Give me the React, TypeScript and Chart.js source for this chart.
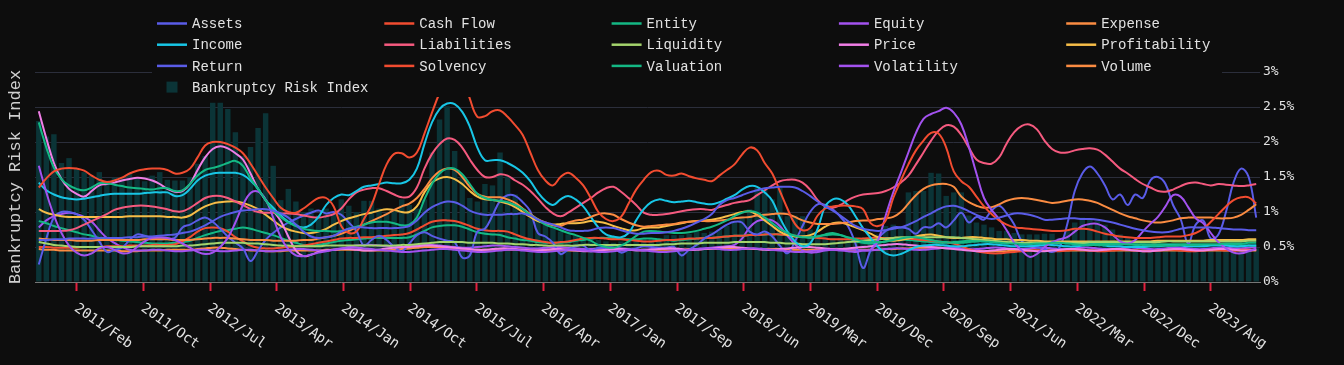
import { useEffect, useRef } from 'react';
import { Chart, registerables } from 'chart.js';

Chart.register(...registerables);

// ---------- data (monthly, Sep 2010 .. Feb 2024) ----------
const START_YEAR = 2010;
const START_MONTH = 8; // September (0-based)
const MONTH_NAMES = ['Jan', 'Feb', 'Mar', 'Apr', 'May', 'Jun', 'Jul', 'Aug', 'Sep', 'Oct', 'Nov', 'Dec'];

const TICK_LABELS = [
  '2011/Feb', '2011/Oct', '2012/Jul', '2013/Apr', '2014/Jan', '2014/Oct', '2015/Jul', '2016/Apr', '2017/Jan',
  '2017/Sep', '2018/Jun', '2019/Mar', '2019/Dec', '2020/Sep', '2021/Jun', '2022/Mar', '2022/Dec', '2023/Aug',
];

const Y_TICKS = [0, 0.5, 1, 1.5, 2, 2.5, 3];

const BANKRUPTCY_RISK = [
  2.30, 2.08, 2.11, 1.70, 1.77, 1.62, 1.57, 1.52, 1.57, 1.45,
  1.49, 1.50, 1.55, 1.50, 1.44, 1.52, 1.57, 1.46, 1.45, 1.45,
  1.50, 1.69, 1.80, 2.56, 2.56, 2.47, 2.14, 1.80, 1.93, 2.20,
  2.41, 1.66, 1.17, 1.33, 1.15, 1.00, 1.05, 0.95, 1.05, 1.00,
  1.18, 1.09, 1.00, 1.16, 1.16, 1.05, 0.98, 1.02, 1.18, 1.10,
  1.05, 1.18, 1.85, 2.32, 2.51, 1.87, 1.50, 1.20, 1.15, 1.40,
  1.38, 1.85, 1.51, 1.25, 1.05, 0.92, 0.88, 0.85, 0.78, 0.72,
  0.68, 0.66, 0.64, 0.63, 0.60, 0.58, 0.56, 0.58, 0.60, 0.61,
  0.63, 0.62, 0.61, 0.67, 0.67, 0.67, 0.69, 0.72, 0.70, 0.72,
  0.75, 0.80, 0.85, 0.94, 1.04, 1.35, 1.32, 1.18, 1.35, 0.94,
  0.95, 0.94, 0.75, 0.68, 0.68, 0.63, 0.63, 0.62, 0.63, 0.64,
  0.63, 0.68, 0.80, 0.82, 0.80, 1.28, 1.30, 1.30, 1.56, 1.55,
  1.23, 1.28, 1.28, 0.95, 0.85, 0.82, 0.78, 0.73, 0.73, 0.70,
  0.68, 0.68, 0.68, 0.69, 0.69, 0.63, 0.75, 0.85, 0.92, 0.90,
  0.87, 0.82, 0.75, 0.68, 0.63, 0.58, 0.56, 0.54, 0.52, 0.52,
  0.51, 0.50, 0.50, 0.50, 0.49, 0.49, 0.49, 0.49, 0.48, 0.48,
  0.48, 0.48,
];

const ASSETS = [
  0.60, 0.60, 0.61, 0.61, 0.62, 0.62, 0.62, 0.62, 0.63, 0.63,
  0.63, 0.63, 0.64, 0.64, 0.65, 0.65, 0.66, 0.67, 0.68, 0.70,
  0.72, 0.76, 0.81, 0.87, 0.93, 0.97, 1.00, 1.02, 1.03, 1.04,
  1.04, 1.02, 0.98, 0.92, 0.82, 0.72, 0.65, 0.63, 0.64, 0.66,
  0.72, 0.76, 0.78, 0.78, 0.77, 0.77, 0.77, 0.77, 0.78, 0.80,
  0.88, 0.99, 1.07, 1.12, 1.15, 1.14, 1.09, 1.02, 0.98, 0.96,
  0.96, 0.96, 0.97, 0.97, 0.98, 0.95, 0.89, 0.85, 0.82, 0.78,
  0.74, 0.73, 0.73, 0.74, 0.77, 0.78, 0.77, 0.74, 0.71, 0.69,
  0.69, 0.70, 0.70, 0.71, 0.73, 0.76, 0.80, 0.85, 0.90, 0.97,
  1.10, 1.17, 1.20, 1.24, 1.28, 1.31, 1.34, 1.35, 1.36, 1.36,
  1.35, 1.30, 1.23, 1.15, 1.08, 1.02, 0.95, 0.87, 0.80, 0.76,
  0.74, 0.73, 0.74, 0.76, 0.78, 0.82, 0.87, 0.93, 0.98, 1.04,
  1.08, 1.09, 1.06, 1.01, 0.96, 0.92, 0.90, 0.92, 0.95, 0.98,
  0.98, 0.96, 0.93, 0.89, 0.89, 0.90, 0.91, 0.91, 0.90, 0.90,
  0.89, 0.87, 0.85, 0.82, 0.79, 0.76, 0.74, 0.72, 0.71, 0.71,
  0.73, 0.76, 0.78, 0.78, 0.78, 0.78, 0.77, 0.76, 0.75, 0.75,
  0.74, 0.74,
];

const CASH_FLOW = [
  1.35, 1.48, 1.58, 1.62, 1.63, 1.62, 1.59, 1.52, 1.46, 1.43,
  1.45, 1.49, 1.55, 1.59, 1.61, 1.62, 1.62, 1.60, 1.55, 1.56,
  1.62, 1.78, 1.95, 2.00, 2.00, 1.97, 1.92, 1.84, 1.69, 1.52,
  1.35, 1.20, 1.06, 1.00, 0.99, 1.05, 1.13, 1.20, 1.20, 1.08,
  0.80, 0.70, 0.72, 0.90, 1.10, 1.40, 1.68, 1.83, 1.84, 1.78,
  1.85, 2.12, 2.42, 2.70, 2.92, 3.02, 2.95, 2.62, 2.36, 2.37,
  2.44, 2.45, 2.36, 2.24, 2.10, 1.85, 1.60, 1.45, 1.38, 1.50,
  1.56, 1.49, 1.38, 1.20, 1.00, 0.90, 0.87, 0.93, 1.12, 1.32,
  1.46, 1.57, 1.59, 1.53, 1.52, 1.55, 1.51, 1.48, 1.46, 1.44,
  1.52, 1.60, 1.68, 1.82, 1.92, 1.88, 1.70, 1.55, 1.30, 1.05,
  0.83, 0.74, 0.77, 0.95, 1.05, 1.08, 1.09, 1.09, 1.08, 1.04,
  0.84, 0.80, 0.88, 1.20, 1.45, 1.68, 1.88, 2.02, 2.13, 2.12,
  1.92, 1.58, 1.44, 1.36, 1.22, 1.08, 0.97, 0.88, 0.82, 0.78,
  0.77, 0.76, 0.75, 0.74, 0.73, 0.73, 0.74, 0.76, 0.76, 0.75,
  0.72, 0.69, 0.67, 0.65, 0.64, 0.63, 0.63, 0.63, 0.64, 0.65,
  0.65, 0.65, 0.67, 0.70, 0.76, 0.86, 0.97, 1.08, 1.17, 1.21,
  1.21, 1.12,
];

const ENTITY = [
  2.28, 1.92, 1.63, 1.47, 1.38, 1.33, 1.31, 1.35, 1.41, 1.41,
  1.39, 1.37, 1.35, 1.34, 1.33, 1.32, 1.34, 1.34, 1.30, 1.31,
  1.40, 1.52, 1.60, 1.63, 1.66, 1.70, 1.73, 1.66, 1.48, 1.33,
  1.17, 1.02, 0.93, 0.85, 0.80, 0.76, 0.74, 0.73, 0.73, 0.72,
  0.73, 0.76, 0.79, 0.82, 0.85, 0.86, 0.86, 0.84, 0.81, 0.82,
  0.92, 1.18, 1.40, 1.55, 1.62, 1.62, 1.54, 1.40, 1.26, 1.20,
  1.17, 1.16, 1.14, 1.10, 1.04, 0.96, 0.89, 0.82, 0.78, 0.74,
  0.70, 0.67, 0.63, 0.59, 0.53, 0.50, 0.49, 0.52, 0.58, 0.66,
  0.72, 0.73, 0.72, 0.71, 0.70, 0.70, 0.71, 0.73, 0.76, 0.79,
  0.83, 0.88, 0.94, 0.99, 1.01, 0.99, 0.92, 0.84, 0.76, 0.70,
  0.66, 0.64, 0.64, 0.65, 0.67, 0.68, 0.67, 0.64, 0.61, 0.58,
  0.57, 0.57, 0.58, 0.60, 0.62, 0.64, 0.64, 0.62, 0.60, 0.58,
  0.57, 0.56, 0.56, 0.57, 0.58, 0.58, 0.57, 0.56, 0.55, 0.55,
  0.54, 0.54, 0.55, 0.55, 0.56, 0.56, 0.55, 0.54, 0.53, 0.53,
  0.53, 0.53, 0.54, 0.54, 0.54, 0.53, 0.53, 0.52, 0.52, 0.52,
  0.52, 0.53, 0.53, 0.53, 0.54, 0.54, 0.54, 0.55, 0.55, 0.55,
  0.56, 0.56,
];

const EQUITY = [
  1.66, 1.28, 0.95, 0.70, 0.52, 0.42, 0.38, 0.41, 0.48, 0.50,
  0.46, 0.41, 0.42, 0.50, 0.58, 0.63, 0.64, 0.63, 0.60, 0.55,
  0.49, 0.43, 0.40, 0.42, 0.50, 0.63, 0.85, 1.10, 1.27, 1.29,
  1.18, 0.92, 0.64, 0.47, 0.38, 0.37, 0.39, 0.42, 0.44, 0.46,
  0.48, 0.49, 0.49, 0.48, 0.47, 0.46, 0.45, 0.44, 0.43, 0.43,
  0.44, 0.45, 0.46, 0.47, 0.47, 0.46, 0.45, 0.44, 0.43, 0.43,
  0.44, 0.45, 0.46, 0.46, 0.45, 0.44, 0.43, 0.43, 0.44, 0.45,
  0.46, 0.46, 0.45, 0.44, 0.43, 0.43, 0.44, 0.45, 0.46, 0.46,
  0.45, 0.44, 0.43, 0.43, 0.44, 0.45, 0.46, 0.47, 0.48, 0.48,
  0.47, 0.46, 0.46, 0.47, 0.48, 0.48, 0.47, 0.46, 0.45, 0.44,
  0.43, 0.43, 0.44, 0.45, 0.46, 0.46, 0.45, 0.44, 0.43, 0.45,
  0.46, 0.60, 0.95, 1.28, 1.56, 1.85, 2.13, 2.33, 2.40, 2.44,
  2.49, 2.42, 2.25, 1.93, 1.55, 1.20, 1.03, 0.90, 0.74, 0.56,
  0.45, 0.36, 0.40, 0.50, 0.57, 0.61, 0.64, 0.72, 0.80, 0.83,
  0.83, 0.78, 0.68, 0.58, 0.55, 0.60, 0.72, 0.83, 0.93, 1.08,
  1.24, 1.22, 1.07, 0.91, 0.84, 0.70, 0.57, 0.48, 0.42, 0.41,
  0.44, 0.48,
];

const EXPENSE = [
  0.62, 0.61, 0.60, 0.60, 0.60, 0.59, 0.59, 0.59, 0.60, 0.60,
  0.60, 0.60, 0.60, 0.60, 0.61, 0.61, 0.61, 0.61, 0.60, 0.60,
  0.60, 0.61, 0.62, 0.63, 0.63, 0.63, 0.62, 0.61, 0.60, 0.60,
  0.60, 0.59, 0.59, 0.59, 0.59, 0.60, 0.60, 0.62, 0.64, 0.66,
  0.69, 0.73, 0.78, 0.82, 0.87, 0.92, 0.97, 1.03, 1.08, 1.12,
  1.20, 1.33, 1.48, 1.58, 1.62, 1.60, 1.50, 1.36, 1.26, 1.22,
  1.21, 1.21, 1.18, 1.13, 1.05, 0.97, 0.90, 0.85, 0.81, 0.80,
  0.85, 0.88, 0.89, 0.93, 0.97, 0.98, 0.96, 0.90, 0.85, 0.81,
  0.79, 0.80, 0.81, 0.82, 0.83, 0.85, 0.86, 0.87, 0.87, 0.87,
  0.88, 0.89, 0.91, 0.92, 0.93, 0.95, 0.96, 0.97, 0.98, 0.97,
  0.93, 0.88, 0.85, 0.83, 0.83, 0.83, 0.84, 0.85, 0.87, 0.88,
  0.88, 0.90, 0.91, 0.93, 1.00, 1.12, 1.24, 1.33, 1.38, 1.40,
  1.40, 1.36, 1.22, 1.14, 1.09, 1.06, 1.07, 1.11, 1.16, 1.19,
  1.20, 1.19, 1.17, 1.15, 1.13, 1.14, 1.16, 1.18, 1.18, 1.16,
  1.13, 1.08, 1.03, 0.98, 0.94, 0.91, 0.88, 0.86, 0.85, 0.86,
  0.88, 0.91, 0.92, 0.92, 0.92, 0.92, 0.91, 0.91, 0.92, 0.96,
  1.03, 1.11,
];

const INCOME = [
  1.42, 1.31, 1.25, 1.21, 1.19, 1.18, 1.19, 1.21, 1.23, 1.25,
  1.26, 1.26, 1.26, 1.26, 1.27, 1.28, 1.28, 1.28, 1.23, 1.24,
  1.33, 1.45, 1.52, 1.55, 1.56, 1.56, 1.56, 1.53, 1.45, 1.33,
  1.17, 1.06, 0.95, 0.86, 0.81, 0.78, 0.82, 0.93, 1.10, 1.20,
  1.25, 1.24, 1.30, 1.36, 1.38, 1.40, 1.42, 1.41, 1.41, 1.46,
  1.62, 1.97, 2.28, 2.47, 2.55, 2.54, 2.43, 2.22, 1.92, 1.74,
  1.74, 1.74, 1.70, 1.64, 1.56, 1.44, 1.28, 1.16, 1.10, 1.18,
  1.23, 1.18, 1.08, 0.93, 0.78, 0.68, 0.65, 0.64, 0.70, 0.88,
  1.04, 1.14, 1.18, 1.16, 1.14, 1.15, 1.16, 1.14, 1.12, 1.11,
  1.14, 1.19, 1.24, 1.32, 1.37, 1.36, 1.28, 1.16, 0.92, 0.72,
  0.58, 0.51, 0.55, 0.76, 1.08, 1.18, 1.18, 1.10, 0.94, 0.77,
  0.63, 0.50, 0.41, 0.38, 0.40, 0.45, 0.50, 0.52, 0.53, 0.53,
  0.52, 0.51, 0.51, 0.52, 0.53, 0.54, 0.54, 0.53, 0.52, 0.51,
  0.51, 0.51, 0.52, 0.53, 0.53, 0.52, 0.51, 0.51, 0.52, 0.53,
  0.53, 0.52, 0.51, 0.51, 0.50, 0.50, 0.50, 0.51, 0.51, 0.52,
  0.52, 0.52, 0.51, 0.51, 0.51, 0.52, 0.52, 0.52, 0.51, 0.51,
  0.52, 0.52,
];

const LIABILITIES = [
  0.73, 0.73, 0.73, 0.73, 0.74, 0.77, 0.82, 0.87, 0.92, 0.97,
  1.03, 1.06, 1.08, 1.09, 1.09, 1.08, 1.06, 1.04, 1.01, 1.01,
  1.06, 1.13, 1.20, 1.23, 1.23, 1.20, 1.15, 1.10, 1.04, 1.00,
  0.99, 0.99, 0.98, 0.98, 0.97, 0.95, 0.93, 0.92, 0.94, 0.97,
  1.05, 1.18, 1.28, 1.32, 1.34, 1.34, 1.30, 1.25, 1.21, 1.22,
  1.35, 1.62, 1.83, 1.97, 2.05, 2.03, 1.92, 1.75, 1.60, 1.50,
  1.50, 1.54, 1.52, 1.45, 1.39, 1.30, 1.19, 1.07, 0.98, 0.94,
  0.99, 1.06, 1.13, 1.20, 1.28, 1.34, 1.36, 1.29, 1.20, 1.10,
  0.99, 0.96, 0.96, 0.97, 0.99, 1.01, 1.03, 1.04, 1.04, 1.03,
  1.07, 1.10, 1.13, 1.15, 1.17, 1.24, 1.31, 1.38, 1.44, 1.46,
  1.46, 1.42, 1.32, 1.17, 1.08, 1.06, 1.10, 1.17, 1.22, 1.25,
  1.26, 1.27, 1.30, 1.35, 1.42, 1.52, 1.68, 1.85, 2.02, 2.16,
  2.24, 2.22, 2.10, 1.92, 1.75, 1.70, 1.69, 1.78, 1.98, 2.14,
  2.23, 2.25, 2.18, 2.02, 1.90, 1.85, 1.85, 1.88, 1.90, 1.91,
  1.89, 1.82, 1.72, 1.62, 1.55, 1.47, 1.40, 1.35, 1.30, 1.29,
  1.32, 1.37, 1.41, 1.42, 1.40, 1.38, 1.40, 1.39, 1.38, 1.37,
  1.38, 1.40,
];

const LIQUIDITY = [
  0.57, 0.55, 0.53, 0.52, 0.51, 0.50, 0.50, 0.50, 0.50, 0.50,
  0.50, 0.50, 0.50, 0.51, 0.51, 0.51, 0.51, 0.51, 0.51, 0.52,
  0.52, 0.53, 0.54, 0.55, 0.56, 0.56, 0.56, 0.56, 0.55, 0.55,
  0.54, 0.53, 0.52, 0.52, 0.51, 0.51, 0.51, 0.51, 0.52, 0.52,
  0.52, 0.52, 0.52, 0.52, 0.52, 0.52, 0.52, 0.52, 0.53, 0.53,
  0.54, 0.55, 0.56, 0.57, 0.57, 0.57, 0.57, 0.56, 0.56, 0.56,
  0.56, 0.55, 0.55, 0.54, 0.54, 0.53, 0.53, 0.52, 0.52, 0.52,
  0.52, 0.52, 0.53, 0.53, 0.53, 0.53, 0.53, 0.53, 0.53, 0.53,
  0.53, 0.53, 0.53, 0.54, 0.54, 0.55, 0.55, 0.55, 0.56, 0.56,
  0.56, 0.56, 0.57, 0.57, 0.57, 0.57, 0.57, 0.56, 0.56, 0.55,
  0.55, 0.54, 0.54, 0.54, 0.54, 0.55, 0.56, 0.57, 0.58, 0.59,
  0.60, 0.61, 0.62, 0.63, 0.64, 0.64, 0.64, 0.64, 0.64, 0.64,
  0.64, 0.64, 0.63, 0.62, 0.61, 0.60, 0.59, 0.58, 0.57, 0.57,
  0.56, 0.56, 0.56, 0.56, 0.56, 0.56, 0.56, 0.56, 0.56, 0.57,
  0.57, 0.57, 0.57, 0.57, 0.57, 0.57, 0.57, 0.57, 0.57, 0.58,
  0.58, 0.58, 0.58, 0.58, 0.58, 0.58, 0.58, 0.58, 0.58, 0.58,
  0.59, 0.59,
];

const PRICE = [
  2.44, 2.05, 1.70, 1.47, 1.33, 1.26, 1.22, 1.30, 1.38, 1.40,
  1.42, 1.45, 1.47, 1.49, 1.48, 1.45, 1.40, 1.33, 1.29, 1.30,
  1.40, 1.60, 1.78, 1.90, 1.94, 1.91, 1.84, 1.75, 1.55, 1.33,
  1.17, 1.02, 0.87, 0.65, 0.45, 0.37, 0.39, 0.43, 0.45, 0.46,
  0.47, 0.47, 0.46, 0.45, 0.45, 0.46, 0.48, 0.49, 0.50, 0.50,
  0.51, 0.52, 0.52, 0.51, 0.50, 0.49, 0.48, 0.47, 0.46, 0.46,
  0.47, 0.48, 0.48, 0.47, 0.46, 0.45, 0.45, 0.46, 0.47, 0.47,
  0.46, 0.45, 0.44, 0.44, 0.45, 0.46, 0.47, 0.47, 0.46, 0.45,
  0.45, 0.46, 0.47, 0.48, 0.48, 0.47, 0.46, 0.46, 0.47, 0.48,
  0.49, 0.50, 0.50, 0.49, 0.48, 0.47, 0.46, 0.46, 0.47, 0.48,
  0.49, 0.50, 0.50, 0.49, 0.48, 0.47, 0.47, 0.48, 0.49, 0.50,
  0.51, 0.52, 0.53, 0.54, 0.54, 0.53, 0.52, 0.51, 0.50, 0.49,
  0.48, 0.47, 0.46, 0.45, 0.44, 0.44, 0.45, 0.46, 0.47, 0.47,
  0.46, 0.45, 0.44, 0.44, 0.45, 0.46, 0.47, 0.47, 0.46, 0.45,
  0.45, 0.46, 0.47, 0.47, 0.46, 0.45, 0.44, 0.44, 0.45, 0.46,
  0.47, 0.47, 0.46, 0.45, 0.45, 0.46, 0.47, 0.47, 0.46, 0.45,
  0.45, 0.46,
];

const PROFITABILITY = [
  1.04, 0.99, 0.96, 0.94, 0.93, 0.93, 0.93, 0.93, 0.93, 0.93,
  0.93, 0.93, 0.94, 0.94, 0.94, 0.94, 0.94, 0.93, 0.93, 0.92,
  0.95, 1.02, 1.08, 1.12, 1.14, 1.15, 1.15, 1.13, 1.09, 1.04,
  0.96, 0.88, 0.80, 0.75, 0.72, 0.70, 0.70, 0.72, 0.76, 0.82,
  0.87, 0.91, 0.94, 0.97, 0.99, 1.02, 1.04, 1.03, 1.00, 1.00,
  1.08, 1.28, 1.42, 1.48, 1.50, 1.47, 1.40, 1.30, 1.22, 1.18,
  1.17, 1.15, 1.12, 1.07, 1.00, 0.93, 0.87, 0.84, 0.82, 0.83,
  0.84, 0.84, 0.85, 0.87, 0.86, 0.84, 0.80, 0.77, 0.74, 0.74,
  0.77, 0.78, 0.78, 0.80, 0.82, 0.84, 0.86, 0.87, 0.88, 0.89,
  0.91, 0.94, 0.97, 1.00, 1.01, 0.96, 0.88, 0.80, 0.72, 0.67,
  0.65, 0.65, 0.67, 0.72, 0.79, 0.84, 0.85, 0.82, 0.78, 0.74,
  0.69, 0.64, 0.61, 0.59, 0.60, 0.62, 0.65, 0.67, 0.68, 0.66,
  0.64, 0.63, 0.63, 0.64, 0.64, 0.63, 0.62, 0.61, 0.61, 0.60,
  0.60, 0.59, 0.59, 0.58, 0.58, 0.58, 0.58, 0.58, 0.58, 0.58,
  0.58, 0.58, 0.58, 0.58, 0.58, 0.58, 0.58, 0.58, 0.59, 0.59,
  0.59, 0.59, 0.59, 0.59, 0.59, 0.60, 0.60, 0.60, 0.60, 0.60,
  0.61, 0.61,
];

const RETURN = [
  0.25, 0.62, 0.92, 1.00, 1.00, 0.97, 0.89, 0.74, 0.58, 0.43,
  0.46, 0.49, 0.60, 0.68, 0.66, 0.63, 0.61, 0.62, 0.63, 0.78,
  0.82, 0.88, 0.92, 0.86, 0.76, 0.65, 0.56, 0.48, 0.30, 0.45,
  0.60, 0.70, 0.78, 0.85, 0.90, 0.95, 0.99, 1.02, 0.98, 1.00,
  0.96, 0.85, 0.73, 0.52, 0.60, 0.66, 0.60, 0.50, 0.44, 0.55,
  0.67, 0.71, 0.66, 0.62, 0.59, 0.57, 0.35, 0.38, 0.72, 0.76,
  0.95, 1.16, 1.24, 1.23, 1.14, 1.01, 0.70, 0.65, 0.56, 0.40,
  0.46, 0.51, 0.52, 0.44, 0.49, 0.49, 0.49, 0.42, 0.46, 0.48,
  0.51, 0.50, 0.49, 0.49, 0.50, 0.38, 0.46, 0.53, 0.62, 0.68,
  0.75, 0.82, 0.86, 0.85, 0.72, 0.68, 0.72, 0.65, 0.52, 0.41,
  0.58, 0.80, 1.00, 1.11, 1.10, 1.04, 0.93, 0.80, 0.55, 0.20,
  0.45, 0.62, 0.73, 0.78, 0.78, 0.76, 0.69, 0.78, 0.78, 0.84,
  0.78, 0.88, 0.99, 0.85, 0.93, 0.89, 1.02, 1.09, 0.98, 0.82,
  0.58, 0.53, 0.50, 0.47, 0.43, 0.50, 0.82, 1.30, 1.55, 1.65,
  1.55, 1.38, 1.18, 1.25, 1.10, 1.25, 1.20, 1.45, 1.50, 1.40,
  1.10, 0.90, 0.55, 0.82, 0.88, 0.62, 0.68, 1.00, 1.42, 1.62,
  1.50, 0.92,
];

const SOLVENCY = [
  0.50, 0.50, 0.49, 0.49, 0.49, 0.49, 0.50, 0.50, 0.50, 0.51,
  0.51, 0.51, 0.52, 0.52, 0.52, 0.53, 0.53, 0.53, 0.54, 0.58,
  0.64, 0.72, 0.77, 0.78, 0.77, 0.72, 0.64, 0.58, 0.52, 0.49,
  0.48, 0.48, 0.49, 0.50, 0.51, 0.52, 0.54, 0.56, 0.58, 0.60,
  0.62, 0.63, 0.63, 0.64, 0.64, 0.65, 0.66, 0.67, 0.68, 0.70,
  0.75, 0.81, 0.86, 0.88, 0.88, 0.87, 0.84, 0.80, 0.76, 0.74,
  0.73, 0.73, 0.72, 0.68, 0.64, 0.61, 0.59, 0.57, 0.56, 0.57,
  0.58, 0.60, 0.62, 0.63, 0.63, 0.62, 0.61, 0.61, 0.60, 0.59,
  0.58, 0.58, 0.59, 0.60, 0.60, 0.61, 0.62, 0.62, 0.63, 0.63,
  0.64, 0.65, 0.66, 0.66, 0.67, 0.67, 0.68, 0.68, 0.68, 0.67,
  0.66, 0.65, 0.64, 0.63, 0.62, 0.61, 0.61, 0.61, 0.62, 0.62,
  0.63, 0.63, 0.63, 0.63, 0.63, 0.62, 0.61, 0.60, 0.59, 0.58,
  0.57, 0.55, 0.51, 0.47, 0.44, 0.42, 0.41, 0.41, 0.42, 0.43,
  0.44, 0.45, 0.45, 0.45, 0.44, 0.44, 0.45, 0.46, 0.46, 0.45,
  0.44, 0.44, 0.45, 0.46, 0.46, 0.45, 0.44, 0.44, 0.45, 0.46,
  0.46, 0.45, 0.44, 0.44, 0.45, 0.46, 0.46, 0.45, 0.45, 0.46,
  0.46, 0.46,
];

const VALUATION = [
  0.87, 0.84, 0.80, 0.77, 0.74, 0.71, 0.68, 0.66, 0.63, 0.61,
  0.60, 0.59, 0.58, 0.57, 0.56, 0.55, 0.55, 0.55, 0.56, 0.57,
  0.59, 0.63, 0.67, 0.70, 0.73, 0.74, 0.76, 0.78, 0.76, 0.73,
  0.70, 0.67, 0.63, 0.59, 0.56, 0.53, 0.52, 0.53, 0.55, 0.57,
  0.59, 0.60, 0.61, 0.62, 0.63, 0.63, 0.63, 0.63, 0.63, 0.64,
  0.68, 0.73, 0.78, 0.80, 0.81, 0.81, 0.79, 0.75, 0.71, 0.69,
  0.68, 0.67, 0.64, 0.62, 0.60, 0.59, 0.57, 0.56, 0.56, 0.56,
  0.57, 0.59, 0.60, 0.62, 0.63, 0.63, 0.63, 0.62, 0.61, 0.61,
  0.62, 0.62, 0.61, 0.60, 0.59, 0.60, 0.61, 0.62, 0.63, 0.63,
  0.64, 0.65, 0.66, 0.66, 0.67, 0.67, 0.68, 0.68, 0.68, 0.67,
  0.66, 0.65, 0.63, 0.65, 0.68, 0.70, 0.67, 0.63, 0.58, 0.56,
  0.55, 0.56, 0.58, 0.60, 0.61, 0.60, 0.59, 0.58, 0.57, 0.56,
  0.56, 0.57, 0.58, 0.59, 0.60, 0.60, 0.59, 0.58, 0.57, 0.56,
  0.55, 0.55, 0.55, 0.56, 0.56, 0.56, 0.56, 0.55, 0.55, 0.55,
  0.55, 0.55, 0.55, 0.55, 0.54, 0.54, 0.54, 0.54, 0.54, 0.54,
  0.54, 0.54, 0.54, 0.54, 0.53, 0.53, 0.53, 0.53, 0.53, 0.53,
  0.52, 0.52,
];

const VOLATILITY = [
  0.78, 0.88, 0.94, 0.97, 0.99, 0.97, 0.93, 0.86, 0.74, 0.63,
  0.56, 0.50, 0.46, 0.45, 0.45, 0.46, 0.46, 0.45, 0.44, 0.44,
  0.45, 0.46, 0.46, 0.45, 0.44, 0.44, 0.45, 0.46, 0.46, 0.45,
  0.44, 0.44, 0.45, 0.46, 0.47, 0.47, 0.46, 0.45, 0.45, 0.46,
  0.48, 0.50, 0.52, 0.53, 0.53, 0.52, 0.51, 0.50, 0.50, 0.51,
  0.52, 0.53, 0.53, 0.52, 0.51, 0.50, 0.49, 0.49, 0.50, 0.51,
  0.52, 0.52, 0.51, 0.50, 0.49, 0.48, 0.48, 0.49, 0.50, 0.50,
  0.49, 0.48, 0.47, 0.47, 0.48, 0.49, 0.49, 0.48, 0.47, 0.46,
  0.46, 0.47, 0.48, 0.48, 0.47, 0.46, 0.46, 0.47, 0.48, 0.49,
  0.50, 0.51, 0.53, 0.62, 0.78, 0.87, 0.89, 0.88, 0.80, 0.66,
  0.54, 0.45, 0.42, 0.43, 0.45, 0.46, 0.47, 0.47, 0.46, 0.45,
  0.45, 0.46, 0.47, 0.48, 0.48, 0.47, 0.46, 0.46, 0.47, 0.48,
  0.49, 0.49, 0.48, 0.47, 0.47, 0.48, 0.49, 0.49, 0.48, 0.47,
  0.47, 0.48, 0.49, 0.49, 0.48, 0.47, 0.47, 0.48, 0.49, 0.49,
  0.48, 0.47, 0.47, 0.48, 0.49, 0.49, 0.48, 0.47, 0.47, 0.48,
  0.49, 0.49, 0.48, 0.47, 0.47, 0.48, 0.49, 0.49, 0.48, 0.48,
  0.49, 0.50,
];

const VOLUME = [
  0.47, 0.46, 0.46, 0.45, 0.45, 0.45, 0.45, 0.45, 0.45, 0.45,
  0.45, 0.44, 0.44, 0.44, 0.45, 0.45, 0.45, 0.46, 0.46, 0.46,
  0.46, 0.47, 0.48, 0.49, 0.49, 0.48, 0.47, 0.46, 0.45, 0.45,
  0.44, 0.44, 0.44, 0.45, 0.45, 0.45, 0.45, 0.45, 0.46, 0.46,
  0.46, 0.46, 0.46, 0.45, 0.45, 0.45, 0.45, 0.46, 0.47, 0.48,
  0.49, 0.50, 0.50, 0.50, 0.49, 0.48, 0.47, 0.46, 0.46, 0.46,
  0.46, 0.46, 0.46, 0.46, 0.46, 0.45, 0.45, 0.45, 0.45, 0.45,
  0.45, 0.45, 0.45, 0.45, 0.45, 0.46, 0.46, 0.46, 0.46, 0.46,
  0.46, 0.46, 0.46, 0.46, 0.46, 0.46, 0.47, 0.47, 0.47, 0.47,
  0.47, 0.47, 0.47, 0.47, 0.47, 0.47, 0.47, 0.47, 0.47, 0.47,
  0.46, 0.46, 0.46, 0.46, 0.46, 0.46, 0.46, 0.46, 0.46, 0.46,
  0.46, 0.46, 0.47, 0.47, 0.48, 0.48, 0.49, 0.49, 0.49, 0.49,
  0.49, 0.48, 0.47, 0.46, 0.45, 0.44, 0.44, 0.44, 0.44, 0.45,
  0.45, 0.45, 0.45, 0.45, 0.45, 0.45, 0.45, 0.45, 0.45, 0.45,
  0.45, 0.45, 0.45, 0.45, 0.45, 0.45, 0.45, 0.45, 0.45, 0.45,
  0.45, 0.45, 0.45, 0.45, 0.45, 0.45, 0.45, 0.45, 0.45, 0.45,
  0.45, 0.45,
];

const SERIES_NAMES = [
  'Assets', 'Cash Flow', 'Entity', 'Equity', 'Expense',
  'Income', 'Liabilities', 'Liquidity', 'Price', 'Profitability',
  'Return', 'Solvency', 'Valuation', 'Volatility', 'Volume',
];
const SERIES_VALUES = [
  ASSETS, CASH_FLOW, ENTITY, EQUITY, EXPENSE,
  INCOME, LIABILITIES, LIQUIDITY, PRICE, PROFITABILITY,
  RETURN, SOLVENCY, VALUATION, VOLATILITY, VOLUME,
];
const BAR_NAME = 'Bankruptcy Risk Index';
const Y_TITLE = 'Bankruptcy Risk Index';

// ---------- styles ----------
const PALETTE = ['#5a5ce8', '#f24c30', '#14b884', '#a352ef', '#fb8c42', '#18c6e6', '#f55a7f', '#a4d46c', '#f07ee6', '#f6bd48'];
const BG = '#0d0d0d';
const BAR_COLOR = '#0b3437';
const GRID_COLOR = '#2b2e3b';
const TEXT_COLOR = '#e2e2e2';
const LEGEND_FONT = "14px 'Courier New', Courier, 'Liberation Mono', monospace";
const TICK_FONT_FAMILY = "'DejaVu Sans Mono', monospace";
const X_LABEL_ANGLE = 35; // degrees, clockwise

function labelToIndex(label: string): number {
  const [y, m] = label.split('/');
  return (parseInt(y, 10) - START_YEAR) * 12 + MONTH_NAMES.indexOf(m) - START_MONTH;
}

const legendPlugin = {
  id: 'overlayLegend',
  afterDraw(chart: any) {
    const ctx = chart.ctx as CanvasRenderingContext2D;
    ctx.save();
    ctx.fillStyle = BG;
    ctx.fillRect(152, 8, 1070, 89);
    ctx.font = LEGEND_FONT;
    ctx.textBaseline = 'middle';
    ctx.textAlign = 'left';
    const items = [
      ...SERIES_NAMES.map((n, i) => ({ name: n, color: PALETTE[i % PALETTE.length], bar: false })),
      { name: BAR_NAME, color: BAR_COLOR, bar: true },
    ];
    items.forEach((it, k) => {
      const col = k % 5;
      const row = Math.floor(k / 5);
      const x = 157 + col * 227.3;
      const y = 23.5 + row * 21.2;
      if (it.bar) {
        ctx.fillStyle = it.color;
        ctx.fillRect(x + 9.5, y - 5.5, 11, 11);
      } else {
        ctx.strokeStyle = it.color;
        ctx.lineWidth = 2.5;
        ctx.beginPath();
        ctx.moveTo(x, y);
        ctx.lineTo(x + 30, y);
        ctx.stroke();
      }
      ctx.fillStyle = TEXT_COLOR;
      ctx.fillText(it.name, x + 35, y + 1);
    });
    ctx.restore();
  },
};

const xLabelPlugin = {
  id: 'slantedXLabels',
  afterDraw(chart: any) {
    const ctx = chart.ctx as CanvasRenderingContext2D;
    const xs = chart.scales.x;
    const bottom = chart.chartArea.bottom;
    ctx.save();
    ctx.font = `14px ${TICK_FONT_FAMILY}`;
    ctx.fillStyle = TEXT_COLOR;
    ctx.textAlign = 'left';
    ctx.textBaseline = 'middle';
    xs.ticks.forEach((t: any, k: number) => {
      const px = xs.getPixelForValue(t.value);
      ctx.save();
      ctx.translate(px - 1, bottom + 25);
      ctx.rotate((X_LABEL_ANGLE * Math.PI) / 180);
      ctx.fillText(TICK_LABELS[k], 0, 0);
      ctx.restore();
    });
    ctx.restore();
  },
};

export default function App() {
  const canvasRef = useRef<HTMLCanvasElement | null>(null);

  useEffect(() => {
    document.body.style.margin = '0';
    document.body.style.background = BG;
    const canvas = canvasRef.current;
    if (!canvas) return;

    const n = BANKRUPTCY_RISK.length;
    const firstTick = labelToIndex(TICK_LABELS[0]);
    const lastTick = labelToIndex(TICK_LABELS[TICK_LABELS.length - 1]);
    const step = (lastTick - firstTick) / (TICK_LABELS.length - 1);

    const lineSets = SERIES_NAMES.map((name, i) => ({
      type: 'line' as const,
      label: name,
      data: SERIES_VALUES[i].map((v, j) => ({ x: j, y: v })),
      borderColor: PALETTE[i % PALETTE.length],
      backgroundColor: PALETTE[i % PALETTE.length],
      borderWidth: 2,
      pointRadius: 0,
      tension: 0.4,
      fill: false,
      yAxisID: 'y',
      order: 0,
    }));

    const chart = new Chart(canvas, {
      type: 'bar',
      data: {
        datasets: [
          ...lineSets,
          {
            type: 'bar' as const,
            label: BAR_NAME,
            data: BANKRUPTCY_RISK.map((v, j) => ({ x: j, y: v })),
            backgroundColor: BAR_COLOR,
            borderWidth: 0,
            yAxisID: 'y',
            order: 1,
          },
        ] as any,
      },
      options: {
        responsive: false,
        animation: false,
        devicePixelRatio: 1,
        layout: { padding: { top: 72, left: 0, right: 0, bottom: 0 } },
        plugins: { legend: { display: false }, tooltip: { enabled: false } },
        scales: {
          x: {
            type: 'linear',
            offset: false,
            min: -0.5,
            max: n - 0.5,
            afterBuildTicks: (scale: any) => {
              scale.ticks = TICK_LABELS.map((_, k) => ({ value: firstTick + k * step }));
            },
            afterFit: (scale: any) => {
              scale.height = 83;
            },
            grid: {
              display: true,
              offset: false,
              drawOnChartArea: false,
              drawTicks: true,
              tickLength: 9,
              tickColor: '#e3213f',
              tickWidth: 2,
            },
            border: { display: true, color: '#767676', width: 1 },
            ticks: { display: false },
          },
          y: {
            type: 'linear',
            position: 'right',
            min: 0,
            max: 3,
            afterBuildTicks: (scale: any) => {
              scale.ticks = Y_TICKS.map((v) => ({ value: v }));
            },
            afterFit: (scale: any) => {
              scale.width = 84;
            },
            grid: { color: GRID_COLOR, drawTicks: false, lineWidth: 1 },
            border: { display: false },
            ticks: {
              color: TEXT_COLOR,
              padding: 3,
              font: { family: TICK_FONT_FAMILY, size: 13 },
              callback: (v: any) => `${v}%`,
            },
          },
          yTitle: {
            type: 'linear',
            position: 'left',
            min: 0,
            max: 1,
            afterFit: (scale: any) => {
              scale.width = 35;
            },
            grid: { display: false },
            border: { display: false },
            ticks: { display: false },
            title: {
              display: true,
              text: Y_TITLE,
              color: '#d0d0d0',
              font: { family: "'Courier New', Courier, 'Liberation Mono', monospace", size: 17 },
              padding: { top: 5, bottom: 0 },
            },
          },
        },
      } as any,
      plugins: [legendPlugin, xLabelPlugin],
    });

    return () => chart.destroy();
  }, []);

  return (
    <div style={{ width: 1344, height: 365, background: BG }}>
      <canvas ref={canvasRef} width={1344} height={365} style={{ display: 'block' }} />
    </div>
  );
}
